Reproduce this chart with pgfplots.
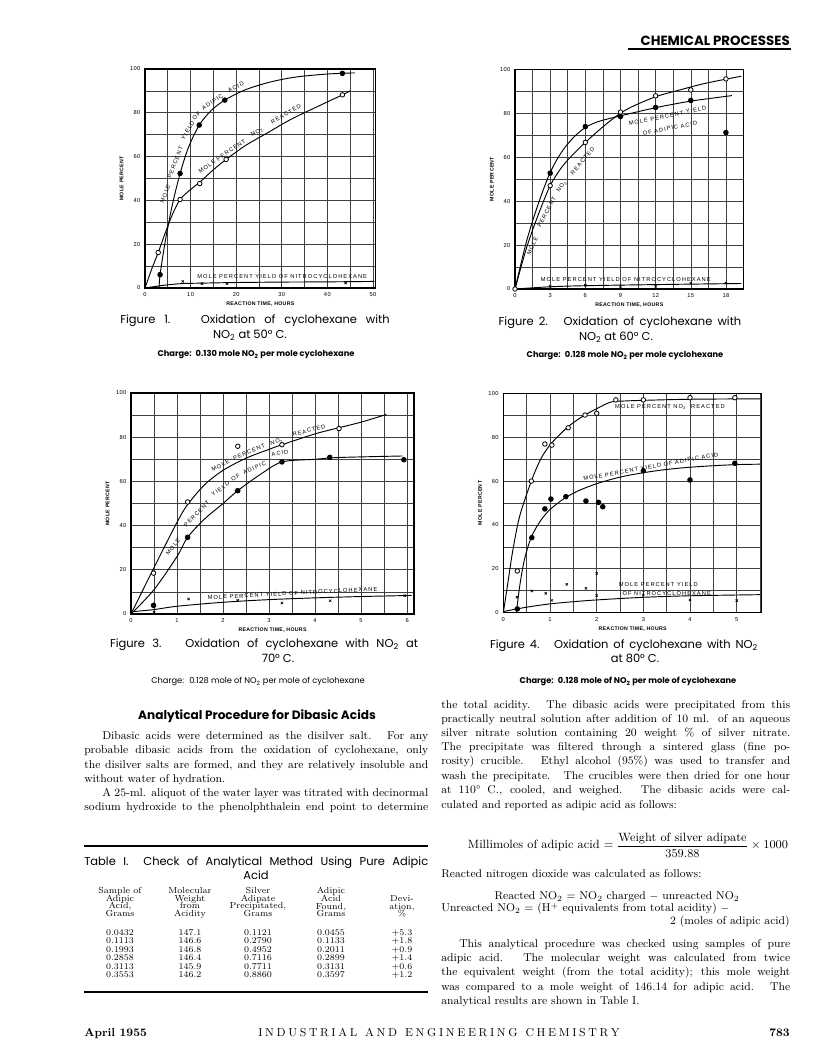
\documentclass[border=0pt]{standalone}
\usepackage{fontspec}
\usepackage{pgfplots}
\pgfplotsset{compat=1.18}
\newfontfamily\pop{Poppins}
\newfontfamily\lab[LetterSpace=18]{Liberation Sans}
\newfontfamily\tlab[LetterSpace=6]{Liberation Sans}
\newcommand\capf{\pop\fontsize{8.6}{10}\selectfont}
\newcommand\chg{\pop\bfseries\fontsize{6.2}{7}\selectfont}
\newcommand\chgr{\pop\fontsize{6.2}{7}\selectfont}
\newcommand\bodyf{\fontsize{8.5}{10}\selectfont}
\newcommand\tabf{\fontsize{6.6}{7}\selectfont}
\newcommand\lblf{\lab\fontsize{4.3}{5}\selectfont}

\tikzset{wl/.style={font=\lblf, inner sep=0pt}}
\pgfplotsset{
  chem/.style={
    scale only axis, anchor=south west, clip=false,
    ymin=0, ymax=100, ytick={0,20,...,100}, minor ytick={10,30,...,90},
    grid=both,
    major grid style={black!75, line width=0.45pt},
    minor grid style={black!75, line width=0.45pt},
    axis line style={line width=0.9pt},
    tick style={draw=none},
    /pgf/number format/assume math mode=true,
    tick label style={font=\tlab\fontsize{4.3}{5}\selectfont},
    xlabel={REACTION TIME, HOURS}, ylabel={MOLE PERCENT},
    label style={font=\tlab\bfseries\fontsize{3.9}{4.5}\selectfont},
    xlabel style={yshift=3pt}, ylabel style={yshift=-2pt},
    every axis plot/.append style={black, line width=0.7pt},
  },
  fil/.style={only marks, mark=*, mark size=1.7pt, mark options={fill=black}},
  opn/.style={only marks, mark=*, mark size=1.7pt, mark options={fill=white, draw=black, line width=0.6pt}},
  crs/.style={only marks, mark=x, mark size=1.2pt, mark options={line width=0.5pt}},
  crv/.style={smooth, no marks, line width=0.7pt},
}

\begin{document}
\begin{tikzpicture}
\path[use as bounding box, fill=white] (0,0) rectangle (612pt,792pt);

% ---------- Figure 1 ----------
\begin{axis}[chem, at={(108.75pt,576pt)}, width=173pt, height=164.25pt,
  xmin=0, xmax=50.6, xtick={0,10,...,50}, minor xtick={5,15,...,45}]
\addplot[crv] coordinates {(3.1,0) (3.3,6) (4.5,22) (6,38) (7.7,52.3) (9.5,64) (11.9,74.4) (14.5,81) (17.5,85.8) (22,90.5) (27.4,94) (33,96.3) (40,97.7) (46,98.2)};
\addplot[crv] coordinates {(0,0) (1.5,8.8) (2.9,16.2) (4.5,25.5) (6,33.5) (7.7,40.4) (10,45) (12,48.3) (15,54) (17.8,58.7) (22,65) (27,71) (32,77) (38,83) (43.3,88.2) (45,90)};
\addplot[crv] coordinates {(0,0) (4,1.2) (8,2) (12,2.2) (20,2.5) (30,2.7) (40,2.8) (50.3,3)};
\addplot[fil] coordinates {(3.3,6.1) (7.7,52.3) (11.9,74.4) (17.5,85.8) (43.3,98)};
\addplot[opn] coordinates {(2.9,16.2) (7.7,40.4) (12,47.7) (17.8,58.7) (43.3,88.2)};
\addplot[crs] coordinates {(8.3,3) (12.5,2) (18,2) (44,2.3)};
\end{axis}

% ---------- Figure 2 ----------
\begin{axis}[chem, at={(386.25pt,575.25pt)}, width=171.4pt, height=164.8pt,
  xmin=0, xmax=19.5, xtick={0,3,...,18}, minor xtick={1.5,4.5,...,19.5}]
\addplot[crv] coordinates {(0,0) (1,19) (2,34) (3,47) (4,55.5) (5,61.5) (6,66.7) (7,71.5) (8,76) (9,80) (10,83) (12,87.5) (14,90.5) (16,93.3) (18,95.5) (19.3,96.8)};
\addplot[crv] coordinates {(0,0) (1,22) (2,39) (3,53) (4,62.5) (5,69) (6,73.5) (7,76) (8,77.5) (9,78.8) (12,82.5) (15,85.5) (18.5,88)};
\addplot[crv] coordinates {(0,0) (3,1) (6,1.5) (12,2) (19.3,2.5)};
\addplot[opn] coordinates {(0,0) (3,47) (6,66.7) (9,80.5) (12,87.9) (15,90.6) (18,95.6)};
\addplot[fil] coordinates {(3,52.7) (6,73.9) (9,78.5) (12,82.6) (15,85.8) (18,71.2)};
\addplot[crs] coordinates {(3,1.2) (6,1.7) (9,1.2) (12,1.2) (15,2.7) (18,2.7)};
\end{axis}

% ---------- Figure 3 ----------
\begin{axis}[chem, at={(98.25pt,331.5pt)}, width=212.25pt, height=165.75pt,
  xmin=0, xmax=6.15, xtick={0,1,...,6}, minor xtick={0.5,1.5,...,5.5}]
\addplot[crv] coordinates {(0,0) (0.5,21) (1.0,41.5) (1.23,49.5) (1.6,58.5) (2,65) (2.5,70.5) (3,74.5) (3.28,76.6) (4,81.5) (4.52,84.3) (5,86.8) (5.55,90.3)};
\addplot[crv] coordinates {(0,0) (0.5,11) (1.0,26) (1.23,34.7) (1.6,43) (2,50) (2.32,55.8) (2.8,63) (3.28,68.8) (4,70) (4.5,70.8) (5.9,71.5)};
\addplot[crv] coordinates {(0,1) (0.5,2) (1,3.5) (2,5.3) (3,6.5) (4,7.3) (5,7.9) (6.1,8.4)};
\addplot[opn] coordinates {(0.49,18.5) (1.23,50.7) (2.32,75.9) (3.28,76.6) (4.52,83.9)};
\addplot[fil] coordinates {(0.49,3.9) (1.23,34.7) (2.32,55.8) (3.28,68.8) (4.32,70.9) (5.93,69.8)};
\addplot[crs] coordinates {(0.5,0.8) (1.25,6.8) (2.32,6.2) (3.28,5) (4.33,6) (5.95,8.3)};
\end{axis}

% ---------- Figure 4 ----------
\begin{axis}[chem, at={(377.5pt,332.5pt)}, width=193.9pt, height=164.5pt,
  xmin=0, xmax=5.54, xtick={0,1,...,5}, minor xtick={0.5,1.5,...,5.5}]
\addplot[crv] coordinates {(0,0) (0.1,14) (0.2,28) (0.35,44) (0.6,60) (0.8,70) (1.0,76.5) (1.2,81) (1.4,85) (1.7,89.5) (2.0,93) (2.3,96) (2.6,96.5) (3,96.8) (4,97.3) (5.5,97.5)};
\addplot[crv] coordinates {(0.28,0) (0.35,12) (0.45,24) (0.6,34.5) (0.8,42) (1,47) (1.3,52) (1.6,55.5) (2,58.8) (2.5,61.8) (3,63.8) (3.5,65.3) (4,66.3) (4.5,67) (5,67.5) (5.5,67.7)};
\addplot[crv] coordinates {(0,0.5) (0.5,2.5) (1,4) (1.5,5) (2,5.8) (3,7) (4,7.7) (5.5,8.2)};
\addplot[opn] coordinates {(0.3,19) (0.6,60) (0.89,76.9) (1.04,76.4) (1.39,84.3) (1.75,90.1) (2.0,90.9) (2.41,97) (3,97) (4,98) (4.96,98)};
\addplot[fil] coordinates {(0.3,1.7) (0.61,34.2) (0.89,47.3) (1.02,51.8) (1.34,52.9) (1.77,50.9) (2.04,50.3) (2.13,48.3) (3,64.7) (4,60.5) (4.96,68.1)};
\addplot[crs] coordinates {(0.29,7) (0.61,9.9) (0.91,8.8) (1.04,5.6) (1.36,12.9) (1.77,11.1) (2,17.9) (2,7.8) (3,8) (4,5.8) (5,5.5)};
\end{axis}

% ---------- curve labels (pixel coordinates, centres) ----------
\begin{scope}[x=0.75pt, y=-0.75pt, yshift=792pt]
% Figure 1
\node[wl, rotate=69] at (165.3,193.8) {MOLE};
\node[wl, rotate=69] at (175.3,162.5) {PERCENT};
\node[wl, rotate=60] at (187.8,130.5) {YIELD};
\node[wl, rotate=45] at (196.5,115.5) {OF};
\node[wl, rotate=35] at (212.5,102) {ADIPIC};
\node[wl, rotate=25] at (236,87) {ACID};
\node[wl, rotate=36] at (207,166.5) {MOLE};
\node[wl, rotate=34] at (231,150) {PERCENT};
\node[wl, rotate=32] at (257,132.5) {NO\textsubscript{2}};
\node[wl, rotate=30] at (286,114) {REACTED};
\node[wl, anchor=west] at (197,277) {MOLE PERCENT YIELD OF NITROCYCLOHEXANE};
% Figure 2
\node[wl, rotate=11.5] at (667.5,115.8) {MOLE PERCENT YIELD};
\node[wl, rotate=11.5] at (670,128.3) {OF ADIPIC ACID};
\node[wl, rotate=66] at (532.5,246) {MOLE};
\node[wl, rotate=62] at (546.7,212) {PERCENT};
\node[wl, rotate=56] at (561.7,187) {NO\textsubscript{2}};
\node[wl, rotate=50] at (582.5,161) {REACTED};
\node[wl] at (625.8,280) {MOLE PERCENT YIELD OF NITROCYCLOHEXANE};
% Figure 3
\node[wl, rotate=27] at (220.5,465.5) {MOLE};
\node[wl, rotate=22] at (249,452) {PERCENT};
\node[wl, rotate=18] at (276.7,442.3) {NO\textsubscript{2}};
\node[wl, rotate=15] at (309,430.5) {REACTED};
\node[wl, rotate=52] at (173,547) {MOLE};
\node[wl, rotate=46] at (196.7,514) {PERCENT};
\node[wl, rotate=37] at (220.5,489) {YIELD};
\node[wl, rotate=30] at (235.5,477.5) {OF};
\node[wl, rotate=24] at (254.5,467.5) {ADIPIC};
\node[wl, rotate=8] at (280,453) {ACID};
\node[wl, rotate=3] at (292.5,593.3) {MOLE PERCENT YIELD OF NITROCYCLOHEXANE};
% Figure 4
\node[wl] at (670,406.7) {MOLE PERCENT NO\textsubscript{2} \ REACTED};
\node[wl, rotate=10.4] at (650.8,466.7) {MOLE PERCENT YIELD OF ADIPIC ACID};
\node[wl] at (658.3,584.3) {MOLE PERCENT YIELD};
\node[wl] at (666.7,593.3) {OF NITROCYCLOHEXANE};
\end{scope}

% ---------- page text (pixel coordinates, baselines) ----------
\begin{scope}[x=0.75pt, y=-0.75pt, yshift=792pt, every node/.style={inner sep=0pt, yshift=-2.25pt}]
\node[anchor=base east, font=\pop\bfseries\fontsize{10}{11}\selectfont] at (790,43) {CHEMICAL PROCESSES};
\draw[line width=1.3pt] (628,49) -- (791,49);

\node[anchor=base, font=\capf] at (255,321) {\makebox[202pt][s]{Figure 1. \ Oxidation of cyclohexane with}};
\node[anchor=base, font=\capf] at (250,336) {NO\textsubscript{2} at 50° C.};
\node[anchor=base, font=\chg] at (256,354) {Charge: \ 0.130 mole NO\textsubscript{2} per mole cyclohexane};

\node[anchor=base, font=\capf] at (620,323) {\makebox[182pt][s]{Figure 2. \ Oxidation of cyclohexane with}};
\node[anchor=base, font=\capf] at (616,338) {NO\textsubscript{2} at 60° C.};
\node[anchor=base, font=\chg] at (625,355) {Charge: \ 0.128 mole NO\textsubscript{2} per mole cyclohexane};

\node[anchor=base, font=\capf] at (264,645) {\makebox[231pt][s]{Figure 3. \ Oxidation of cyclohexane with NO\textsubscript{2} at}};
\node[anchor=base, font=\capf] at (278,660) {70° C.};
\node[anchor=base, font=\chgr] at (258,681) {Charge: \ 0.128 mole of NO\textsubscript{2} per mole of cyclohexane};

\node[anchor=base, font=\capf] at (624,646) {\makebox[201pt][s]{Figure 4. \ Oxidation of cyclohexane with NO\textsubscript{2}}};
\node[anchor=base, font=\capf] at (635,660) {at 80° C.};
\node[anchor=base, font=\chg] at (628,681) {Charge: \ 0.128 mole of NO\textsubscript{2} per mole of cyclohexane};

% left column
\node[anchor=base, font=\pop\bfseries\fontsize{9.1}{10}\selectfont] at (257,717) {Analytical Procedure for Dibasic Acids};
\node[anchor=base west, font=\bodyf] at (102,737) {\makebox[244.5pt][s]{Dibasic acids were determined as the disilver salt.\hspace{3pt} For any}};
\node[anchor=base west, font=\bodyf] at (84,751) {\makebox[258pt][s]{probable dibasic acids from the oxidation of cyclohexane, only}};
\node[anchor=base west, font=\bodyf] at (84,766) {\makebox[258pt][s]{the disilver salts are formed, and they are relatively insoluble and}};
\node[anchor=base west, font=\bodyf] at (84,780) {without water of hydration.};
\node[anchor=base west, font=\bodyf] at (102,794) {\makebox[244.5pt][s]{A 25-ml. aliquot of the water layer was titrated with decinormal}};
\node[anchor=base west, font=\bodyf] at (84,808) {\makebox[258pt][s]{sodium hydroxide to the phenolphthalein end point to determine}};

\draw[line width=1.1pt] (84,846) -- (428,846);
\node[anchor=base west, font=\capf] at (84,863) {\makebox[258pt][s]{Table I. \ Check of Analytical Method Using Pure Adipic}};
\node[anchor=base, font=\capf] at (256,877) {Acid};
\node[anchor=north, font=\tabf, align=center] at (120,884) {Sample of\\[-1.2pt]Adipic\\[-1.2pt]Acid,\\[-1.2pt]Grams};
\node[anchor=north, font=\tabf, align=center] at (190,884) {Molecular\\[-1.2pt]Weight\\[-1.2pt]from\\[-1.2pt]Acidity};
\node[anchor=north, font=\tabf, align=center] at (258,884) {Silver\\[-1.2pt]Adipate\\[-1.2pt]Precipitated,\\[-1.2pt]Grams};
\node[anchor=north, font=\tabf, align=center] at (331,884) {Adipic\\[-1.2pt]Acid\\[-1.2pt]Found,\\[-1.2pt]Grams};
\node[anchor=north, font=\tabf, align=center] at (402,892) {Devi-\\[-1.2pt]ation,\\[-1.2pt]\%};
\node[anchor=north, font=\tabf, align=center] at (120,926) {0.0432\\[-0.6pt]0.1113\\[-0.6pt]0.1993\\[-0.6pt]0.2858\\[-0.6pt]0.3113\\[-0.6pt]0.3553};
\node[anchor=north, font=\tabf, align=center] at (190,926) {147.1\\[-0.6pt]146.6\\[-0.6pt]146.8\\[-0.6pt]146.4\\[-0.6pt]145.9\\[-0.6pt]146.2};
\node[anchor=north, font=\tabf, align=center] at (258,926) {0.1121\\[-0.6pt]0.2790\\[-0.6pt]0.4952\\[-0.6pt]0.7116\\[-0.6pt]0.7711\\[-0.6pt]0.8860};
\node[anchor=north, font=\tabf, align=center] at (331,926) {0.0455\\[-0.6pt]0.1133\\[-0.6pt]0.2011\\[-0.6pt]0.2899\\[-0.6pt]0.3131\\[-0.6pt]0.3597};
\node[anchor=north, font=\tabf, align=center] at (402,926) {+5.3\\[-0.6pt]+1.8\\[-0.6pt]+0.9\\[-0.6pt]+1.4\\[-0.6pt]+0.6\\[-0.6pt]+1.2};
\draw[line width=1.1pt] (84,992) -- (428,992);

% right column
\node[anchor=base west, font=\bodyf] at (441,706) {\makebox[261.75pt][s]{the total acidity.\hspace{3pt} The dibasic acids were precipitated from this}};
\node[anchor=base west, font=\bodyf] at (441,720) {\makebox[261.75pt][s]{practically neutral solution after addition of 10 ml. of an aqueous}};
\node[anchor=base west, font=\bodyf] at (441,734) {\makebox[261.75pt][s]{silver nitrate solution containing 20 weight \% of silver nitrate.}};
\node[anchor=base west, font=\bodyf] at (441,748) {\makebox[261.75pt][s]{The precipitate was filtered through a sintered glass (fine po-}};
\node[anchor=base west, font=\bodyf] at (441,762) {\makebox[261.75pt][s]{rosity) crucible.\hspace{3pt} Ethyl alcohol (95\%) was used to transfer and}};
\node[anchor=base west, font=\bodyf] at (441,777) {\makebox[261.75pt][s]{wash the precipitate.\hspace{3pt} The crucibles were then dried for one hour}};
\node[anchor=base west, font=\bodyf] at (441,791) {\makebox[261.75pt][s]{at 110° C., cooled, and weighed.\hspace{3pt} The dibasic acids were cal-}};
\node[anchor=base west, font=\bodyf] at (441,806) {culated and reported as adipic acid as follows:};

\node[anchor=base, font=\fontsize{9}{10}\selectfont] at (628,846) {Millimoles of adipic acid $\displaystyle = \frac{\mbox{Weight of silver adipate}}{359.88} \times 1000$};
\node[anchor=base west, font=\bodyf] at (441,875) {Reacted nitrogen dioxide was calculated as follows:};
\node[anchor=base, font=\bodyf] at (617,897) {Reacted NO\textsubscript{2} = NO\textsubscript{2} charged $-$ unreacted NO\textsubscript{2}};
\node[anchor=base west, font=\bodyf] at (441,909) {Unreacted NO\textsubscript{2} = (H\textsuperscript{+} equivalents from total acidity) $-$};
\node[anchor=base east, font=\bodyf] at (790,922) {2 (moles of adipic acid)};
\node[anchor=base west, font=\bodyf] at (459,945) {\makebox[248.25pt][s]{This analytical procedure was checked using samples of pure}};
\node[anchor=base west, font=\bodyf] at (441,959) {\makebox[261.75pt][s]{adipic acid.\hspace{3pt} The molecular weight was calculated from twice}};
\node[anchor=base west, font=\bodyf] at (441,973) {\makebox[261.75pt][s]{the equivalent weight (from the total acidity); this mole weight}};
\node[anchor=base west, font=\bodyf] at (441,988) {\makebox[261.75pt][s]{was compared to a mole weight of 146.14 for adipic acid.\hspace{3pt} The}};
\node[anchor=base west, font=\bodyf] at (441,1002) {analytical results are shown in Table I.};

% footer
\node[anchor=base west, font=\bfseries\fontsize{8.6}{10}\selectfont] at (84,1034) {April 1955};
\node[anchor=base, font=\fontsize{8.6}{10}\selectfont] at (439,1034) {\makebox[271pt][s]{I N D U S T R I A L \ \ A N D \ \ E N G I N E E R I N G \ \ C H E M I S T R Y}};
\node[anchor=base east, font=\bfseries\fontsize{8.6}{10}\selectfont] at (790,1034) {783};
\end{scope}
\end{tikzpicture}
\end{document}
